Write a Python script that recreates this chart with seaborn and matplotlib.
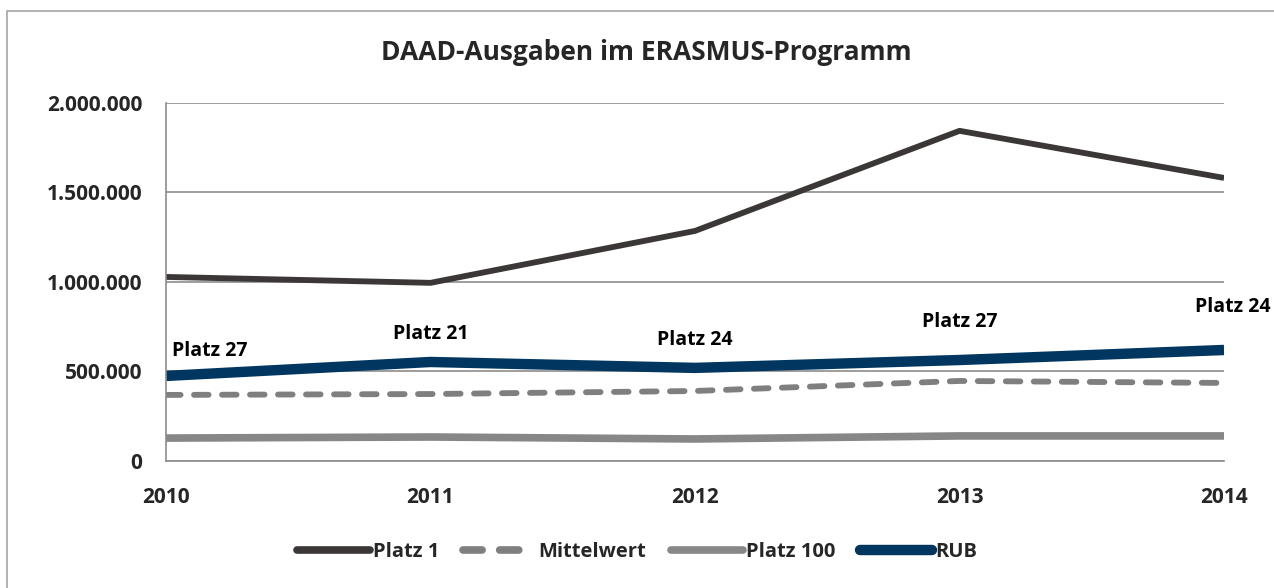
import pandas as pd
import matplotlib
matplotlib.use('Agg')
import matplotlib.pyplot as plt
import matplotlib.ticker as mticker
from matplotlib.patches import Rectangle
import seaborn as sns

# Werte (Euro)
years = [2010, 2011, 2012, 2013, 2014]
platz_1 = [1028000, 995000, 1285000, 1844000, 1581000]
mittelwert = [369000, 374000, 391000, 447000, 436000]
platz_100 = [128000, 134000, 123000, 140000, 140000]
rub = [475000, 553000, 520000, 564000, 620000]
rub_rank = ['Platz 27', 'Platz 21', 'Platz 24', 'Platz 27', 'Platz 24']

sns.set_style('white')
plt.rcParams['font.family'] = ['Open Sans', 'DejaVu Sans']
plt.rcParams['font.weight'] = 'bold'

fig = plt.figure(figsize=(12.74, 5.88), dpi=100)
ax = fig.add_axes([0.1303, 0.216, 0.8305, 0.609])

# Rahmen um das Diagramm
fig.patches.append(Rectangle((7 / 1274, -0.05), 1.2, 1 - 11 / 588 + 0.05,
                             transform=fig.transFigure, fill=False,
                             edgecolor='#a6a6a6', linewidth=1.2))

series = [
    ('Platz 1', platz_1, '#3b3737', 4.2, (None, None)),
    ('Mittelwert', mittelwert, '#7f7f7f', 4.2, (2.5, 2.3)),
    ('Platz 100', platz_100, '#878787', 5.5, (None, None)),
    ('RUB', rub, '#003660', 7.5, (None, None)),
]

handles = []
for name, vals, color, lw, dash in series:
    df = pd.DataFrame({'Jahr': years, 'Wert': vals})
    sns.lineplot(data=df, x='Jahr', y='Wert', ax=ax, color=color, linewidth=lw)
    line = ax.lines[-1]
    if dash[0] is not None:
        line.set_dashes(dash)
        line.set_dash_capstyle('round')
    else:
        line.set_solid_capstyle('butt')
    handles.append(plt.Line2D([], [], color=color, linewidth=max(lw, 5.5),
                              dashes=dash if dash[0] is not None else (None, None),
                              dash_capstyle='round', solid_capstyle='round'))

# Platzierung der RUB
offsets = [(4, 11), (0, 13), (0, 13), (0, 20), (6, 24)]
aligns = ['left', 'center', 'center', 'center', 'center']
for x, y, lab, off, ha in zip(years, rub, rub_rank, offsets, aligns):
    ax.annotate(lab, (x, y), xytext=off, textcoords='offset points',
                ha=ha, va='bottom', fontsize=14, fontweight='bold', color='black')

ax.set_xlim(2010, 2014)
ax.set_ylim(0, 2000000)
ax.set_xticks(years)
ax.set_yticks([0, 500000, 1000000, 1500000, 2000000])
ax.yaxis.set_major_formatter(mticker.FuncFormatter(
    lambda v, p: f'{int(v):,}'.replace(',', '.')))
ax.grid(axis='y', color='#8c8c8c', linewidth=1.2)
ax.set_axisbelow(True)
ax.set_xlabel('')
ax.set_ylabel('')
for s in ['top', 'right']:
    ax.spines[s].set_visible(False)
for s in ['left', 'bottom']:
    ax.spines[s].set_color('#8c8c8c')
    ax.spines[s].set_linewidth(1.2)
ax.tick_params(axis='both', direction='out', length=7, width=1.2,
               color='#8c8c8c', labelsize=15, pad=10)
ax.tick_params(axis='x', pad=12)
for t in ax.get_xticklabels() + ax.get_yticklabels():
    t.set_fontweight('bold')

fig.text(0.507, 0.91, 'DAAD-Ausgaben im ERASMUS-Programm', ha='center',
         va='center', fontsize=19, fontweight='bold')

fig.legend(handles, [s[0] for s in series], loc='center',
           bbox_to_anchor=(0.5, 0.061), ncol=4, frameon=False,
           handlelength=3.6, columnspacing=1.2, handletextpad=0.15,
           prop={'size': 14.5, 'weight': 'bold'})

fig.savefig('out.png', dpi=100)
